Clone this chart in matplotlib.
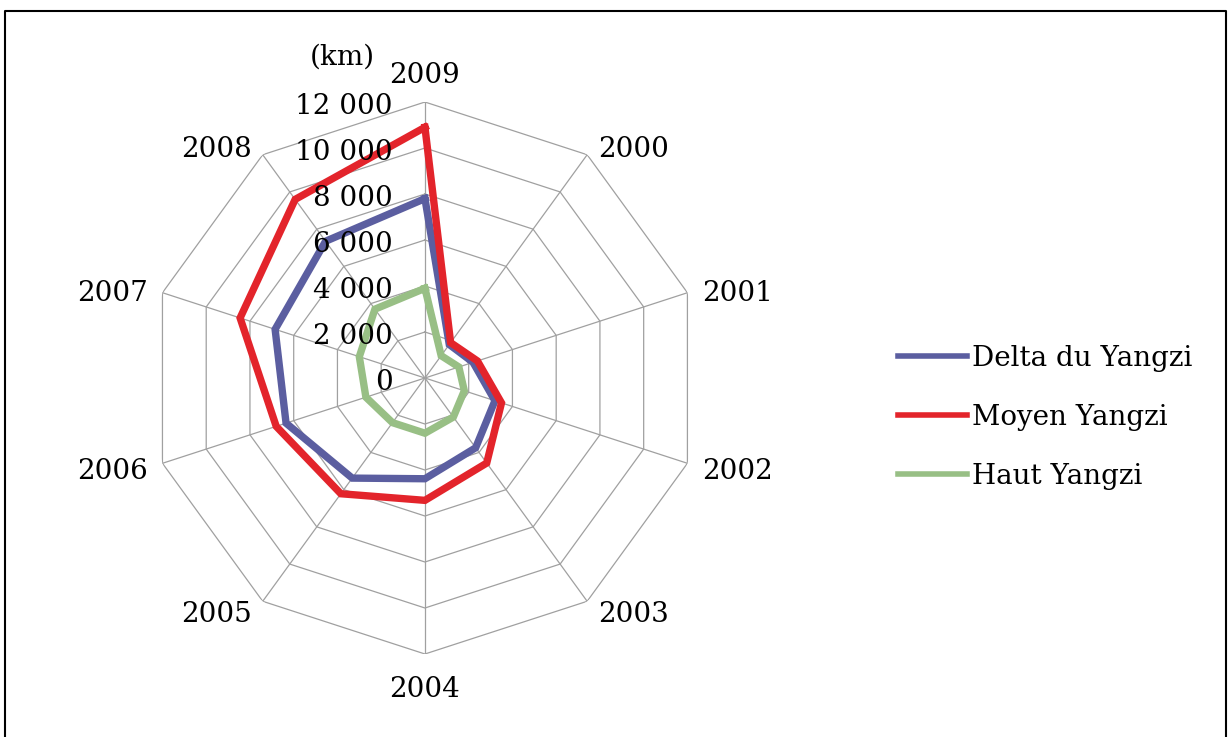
import numpy as np
import matplotlib.pyplot as plt
from matplotlib.lines import Line2D

# categories in the order they appear clockwise from the top
annees = ['2009', '2000', '2001', '2002', '2003', '2004', '2005', '2006', '2007', '2008']
delta = [7800, 1800, 2200, 3200, 3750, 4380, 5380, 6350, 6850, 7350]
moyen = [10900, 1900, 2400, 3500, 4570, 5320, 6220, 6800, 8450, 9600]
haut = [3900, 1200, 1550, 1800, 2100, 2400, 2400, 2700, 3000, 3700]
graduations = [0, 2000, 4000, 6000, 8000, 10000, 12000]

plt.rcParams['font.family'] = ['DejaVu Serif']

fig = plt.figure(figsize=(12.31, 7.37), dpi=100)
ax = fig.add_axes([0.1210, 0.1126, 0.4484, 0.749], projection='polar')
ax.set_theta_zero_location('N')
ax.set_theta_direction(-1)
ax.set_ylim(0, 12000)
ax.grid(False)
ax.set_xticks([])
ax.set_yticks([])
ax.spines['polar'].set_visible(False)

n = len(annees)
theta = np.arange(n) * 2 * np.pi / n
theta_c = np.append(theta, theta[0])

# polygon grid + spokes
grid_col = '#A0A0A0'
for g in graduations[1:]:
    ax.plot(theta_c, [g] * (n + 1), color=grid_col, lw=0.9, zorder=1)
for t in theta:
    ax.plot([t, t], [0, 12000], color=grid_col, lw=0.9, zorder=1)

# series
series = [(delta, 'Delta du Yangzi', '#5B5EA0'),
          (moyen, 'Moyen Yangzi', '#E3242B'),
          (haut, 'Haut Yangzi', '#98BF85')]
for vals, lab, col in series:
    ax.plot(theta_c, vals + vals[:1], color=col, lw=5.3, label=lab,
            solid_joinstyle='miter', zorder=3)

# radial tick labels
for g in graduations:
    lab = f'{g:,}'.replace(',', ' ')
    ax.annotate(lab, xy=(0, g), xytext=(-23, -3), textcoords='offset points',
                ha='right', va='center', fontsize=20, zorder=5)

# category labels, placed next to the outer vertex like Excel does
px = 0.72  # points per pixel at dpi 100
for t, lab in zip(theta, annees):
    s, c = np.sin(t), np.cos(t)
    if abs(s) < 0.1:
        ha, dx, dy = 'center', 0, -c * 31.5 + 4.5
    else:
        ha = 'left' if s > 0 else 'right'
        dx = np.sign(s) * (4 + 11 * abs(s))
        dy = -c * 12 + 4
    ax.annotate(lab, xy=(t, 12000), xytext=(dx * px, -dy * px),
                textcoords='offset points', ha=ha, va='center', fontsize=20)

fig.text(342 / 1231, 1 - 57 / 737, '(km)', ha='center', va='center', fontsize=20)

leg = fig.legend(loc='center left', bbox_to_anchor=(0.7295, 0.434), frameon=False,
                 fontsize=20, handlelength=2.5, handletextpad=0.15, labelspacing=1.15,
                 borderpad=0, borderaxespad=0)
for ln in leg.get_lines():
    ln.set_linewidth(4)

# outer frame (open at the bottom)
fig.add_artist(Line2D([0.004, 0.004, 0.996, 0.996], [-0.01, 0.985, 0.985, -0.01],
                      transform=fig.transFigure, color='black', lw=1.5))

fig.savefig('out.png', dpi=100)
